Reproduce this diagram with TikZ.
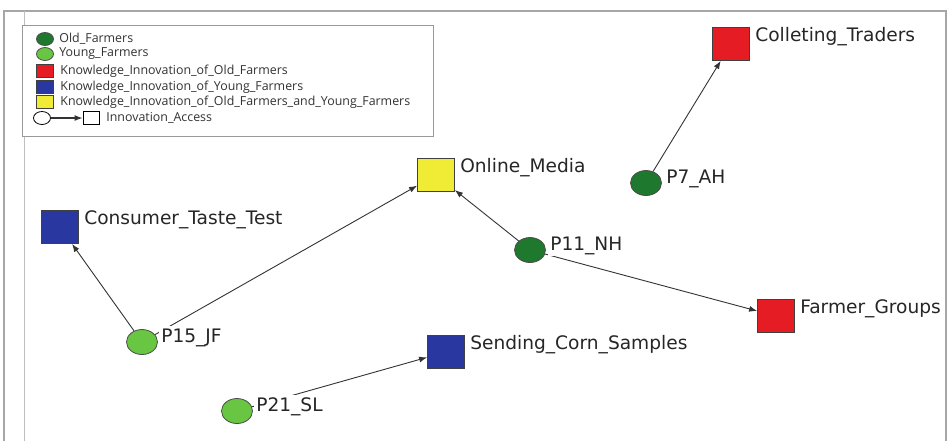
\documentclass[tikz,border=0pt]{standalone}
\usepackage{fontspec}
\setmainfont{DejaVu Sans}
\newfontfamily\legendfont{Open Sans}
\usepackage{tikz}
\usetikzlibrary{shapes.geometric,arrows.meta,positioning}
\definecolor{oldgreen}{RGB}{30,120,46}
\definecolor{younggreen}{RGB}{104,198,66}
\definecolor{oldred}{RGB}{230,28,36}
\definecolor{youngblue}{RGB}{40,56,160}
\definecolor{bothyellow}{RGB}{240,236,54}

\begin{document}
\begin{tikzpicture}[x=0.5pt,y=-0.5pt,
    farmer/.style={ellipse, draw=black!70, fill=#1, minimum width=15.5pt, minimum height=12.5pt, inner sep=0pt},
    know/.style={rectangle, draw=black!75, fill=#1, minimum width=18.5pt, minimum height=16.5pt, inner sep=0pt},
    lab/.style={fill=white, inner sep=1pt, font=\fontsize{9.3}{11}\selectfont, text=black!85},
    access/.style={draw=black!80, line width=0.45pt, -{Latex[length=4pt,width=3pt]}},
    legsym/.style={minimum width=8.5pt, minimum height=6.5pt},
    legtext/.style={anchor=west, inner sep=0pt, font=\legendfont\fontsize{6.2}{7}\selectfont, text=black!80}]
  \useasboundingbox (0,0) rectangle (951,441);
  % frame
  \draw[black!35, line width=1pt] (4,441) -- (4,11) -- (946,11) -- (946,441);
  \draw[black!25] (24,11) -- (24,441);

  % legend
  \draw[black!40, fill=white] (22,25) rectangle (433,136);
  \node[farmer=oldgreen, legsym] (kold) at (45,39) {};
  \node[legtext] (koldtxt) at (59,39) {Old\_Farmers};
  \node[farmer=younggreen, legsym] (kyoung) at (45,54) {};
  \node[legtext] (kyoungtxt) at (59,54) {Young\_Farmers};
  \node[know=oldred, legsym] (kred) at (45,71) {};
  \node[legtext] (kredtxt) at (60,71) {Knowledge\_Innovation\_of\_Old\_Farmers};
  \node[know=youngblue, legsym] (kblue) at (45,87) {};
  \node[legtext] (kbluetxt) at (60,87) {Knowledge\_Innovation\_of\_Young\_Farmers};
  \node[know=bothyellow, legsym] (kyellow) at (45,102) {};
  \node[legtext] (kyellowtxt) at (60,102) {Knowledge\_Innovation\_of\_Old\_Farmers\_and\_Young\_Farmers};
  \node[farmer=white, draw=black, legsym] (kfrom) at (42,118) {};
  \node[know=white, draw=black, legsym, minimum width=8pt] (kto) at (91,118) {};
  \draw[access, line width=0.6pt] (kfrom) -- (kto);
  \node[legtext] (ktotxt) at (106,118) {Innovation\_Access};

  % knowledge innovations
  \node[know=oldred] (traders) at (731,44) {};
  \node[know=bothyellow] (media) at (436,175) {};
  \node[know=youngblue] (taste) at (60,227) {};
  \node[know=oldred] (groups) at (776,316) {};
  \node[know=youngblue] (corn) at (446,352) {};

  % farmers
  \node[farmer=oldgreen] (p7) at (646,183) {};
  \node[farmer=oldgreen] (p11) at (530,250) {};
  \node[farmer=younggreen] (p15) at (142,342) {};
  \node[farmer=younggreen] (p21) at (237,411) {};

  % innovation access
  \draw[access] (p7) -- (traders);
  \draw[access] (p11) -- (media);
  \draw[access] (p11) -- (groups);
  \draw[access] (p15) -- (taste);
  \draw[access] (p15) -- (media);
  \draw[access] (p21) -- (corn);

  % labels
  \node[lab, anchor=north west] (traderslab) at ([xshift=1.5pt,yshift=1pt]traders.north east) {Colleting\_Traders};
  \node[lab, anchor=north west] (medialab) at ([xshift=1.5pt,yshift=1pt]media.north east) {Online\_Media};
  \node[lab, anchor=north west] (tastelab) at ([xshift=1.5pt,yshift=1pt]taste.north east) {Consumer\_Taste\_Test};
  \node[lab, anchor=north west] (groupslab) at ([xshift=1.5pt,yshift=1pt]groups.north east) {Farmer\_Groups};
  \node[lab, anchor=north west] (cornlab) at ([xshift=1.5pt,yshift=1pt]corn.north east) {Sending\_Corn\_Samples};
  \node[lab, anchor=base west] (p7lab) at ([xshift=1pt]p7.east) {P7\_AH};
  \node[lab, anchor=base west] (p11lab) at ([xshift=1pt]p11.east) {P11\_NH};
  \node[lab, anchor=base west] (p15lab) at ([xshift=0.5pt]p15.east) {P15\_JF};
  \node[lab, anchor=base west] (p21lab) at ([xshift=0.5pt]p21.east) {P21\_SL};
\end{tikzpicture}
\end{document}
